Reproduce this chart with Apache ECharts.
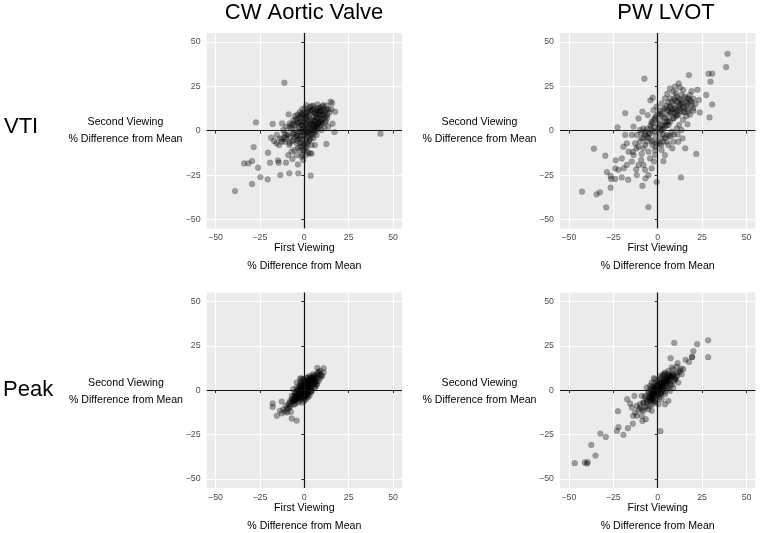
<!DOCTYPE html>
<html>
<head>
<meta charset="utf-8">
<script src="https://cdn.jsdelivr.net/npm/echarts@6/dist/echarts.min.js"></script>
<style>html,body{margin:0;padding:0;background:#fff}#c{width:760px;height:533px}</style>
</head>
<body>
<div id="c"></div>
<script>
// ---- data ----
const columnTitles = ['CW Aortic Valve', 'PW LVOT'];
const rowTitles = ['VTI', 'Peak'];
const tickValues = [-50, -25, 0, 25, 50];
const xTitle = ['First Viewing', '% Difference from Mean'];
const yTitle = ['Second Viewing', '% Difference from Mean'];

const cwVti = [
[-11.2,27.0],[-27.2,4.7],[-17.8,3.8],[42.9,-1.7],[-28.5,-9.2],[-20.4,-12.4],[-33.9,-18.4],[-31.5,-18.4],[-29.4,-17.1],
[-26.0,-20.8],[-24.7,-26.1],[-29.4,-30.0],[-39.0,-34.0],[-20.6,-27.4],[-19.3,-18.0],[-14.8,-16.7],[-14.4,-18.0],[-13.5,-25.0],
[-8.4,-24.0],[-10.3,-18.0],[-6.7,-15.9],[-9.0,-13.7],[-3.6,-19.0],[-3.4,-24.0],[3.6,-25.3],[-0.6,-16.5],[-1.1,-13.7],
[3.2,-12.8],[4.1,-12.8],[12.4,-7.5],[17.0,-0.8],[15.9,3.9],[17.4,10.7],[15.7,15.6],[14.8,16.3],[-8.8,9.2],[-12.5,4.1],
[-18.7,-3.9],[-17.0,-5.8],[-15.7,-7.1],[-14.2,-8.1],[-12.7,-4.7],[-11.2,-1.7],[-8.4,-8.1],[-5.6,-10.9],[-3.7,-9.9],
[1.1,14.4],[5.1,13.9],[8.1,12.9],[10.7,14.4],[12.5,14.1],[13.5,12.2],[11.6,10.7],[8.8,8.8],[6.6,7.5],[6.0,5.1],[8.8,5.1],
[11.6,4.7],[13.5,2.3],[9.7,0.4],[6.9,-2.4],[5.1,-4.3],[6.0,-8.1],[4.1,-8.1],[1.3,-6.2],[-2.4,-4.3],[-4.3,-2.4],[-5.2,0.4],
[-7.1,3.2],[-3.4,4.1],[-1.5,6.9],[-0.6,8.8],[2.2,7.9],[3.2,5.1],[1.3,3.2],[-0.6,1.3],[-2.4,-0.6],[0.4,-2.4],[2.2,-0.6],
[4.1,1.3],[5.1,3.2],[6.9,2.3],[7.9,4.1],[6.0,9.8],[4.1,11.6],[2.2,10.7],[0.4,12.6],[-2.4,7.9],[-4.3,6.9],[-6.2,6.0],
[-8.1,4.1],[-10.1,2.3],[-11.8,0.4],[-10.1,-2.4],[-8.1,-3.4],[-6.2,-5.3],[-4.3,-7.1],[-2.4,-9.0],[-0.6,-10.9],[1.3,-9.0],
[-0.6,-7.1],[-12.7,-6.2],[-10.9,-6.2],[-13.7,-4.3],[-15.5,-2.4],[-1.5,-14.6],[0.9,-13.7],[-4.3,-13.7],[-7.1,-11.8],
[2,2],[3,4],[4,6],[5,8],[6,10],[7,9],[8,7],[9,9],[10,11],[11,12],[7,12],[5,11],[3,9],[1,7],[0,5],[-1,3],[-2,1],[-3,-1],
[-4,-3],[0,0],[1,-1],[2,-3],[3,-5],[4,-2],[5,0],[6,2],[7,4],[8,1],[9,3],[10,6],[12,8],[13,9],[-1,-5],[-2,-7],[0,-8],
[1,-10],[-3,2],[-5,3],[-6,-2],[-7,-6],[2,12],[4,14],[9,13],[11,9],[6,6],[3,1],[-1,10],[1,4],[-2,5],
[-5.2,8.3],[-3.8,9.1],[-2.6,10.4],[-1.7,9.2],[0.3,9.4],[1.2,10.3],[3.4,11.2],[5.3,12.4],[7.2,11.3],[8.3,10.2],[9.1,11.4],
[10.3,8.7],[11.2,7.1],[9.3,6.2],[8.1,3.7],[7.3,1.8],[6.2,0.4],[5.1,-1.7],[3.8,-3.9],[2.7,-5.8],[1.9,-7.2],[0.8,-4.6],
[-0.3,-2.7],[-1.2,-0.8],[-2.1,-2.9],[-3.2,-4.8],[-4.1,-5.7],[-5.3,-3.6],[-6.1,-1.2],[-7.2,1.1],[-8.3,2.2],[-6.2,3.8],
[-4.8,5.7],[-3.7,4.6],[-2.9,7.2],[-1.6,3.3],[-0.7,4.8],[0.4,6.9],[1.3,8.2],[2.4,5.7],[3.1,2.9],[4.3,3.8],[5.4,5.6],
[6.3,3.6],[7.1,6.8],[8.4,11.2],[9.2,4.8],[10.1,3.9],[11.3,1.7],[12.2,5.3],[12.9,7.2],[14.1,10.3],[15.2,12.1],[12.3,11.8],
[10.2,13.7],[7.4,14.8],[3.2,13.3],[-1.1,12.2],[0.2,1.7],[1.1,0.3],[2.2,-1.2],[3.3,-2.1],[4.2,0.2],[5.2,2.2],[6.1,-0.9],
[-1.2,-8.3],[0.1,-11.2],[-2.2,-11.1],[2.1,-12.3],[-9.1,-2.2],[-10.2,-4.8],[-8.2,-6.9],[-11.1,-3.8]
];

const pwVti = [
[39.3,43.3],[38.5,35.8],[28.6,32.1],[30.7,32.1],[29.7,27.6],[17.6,31.3],[-7.5,29.3],[11.8,26.6],[22.4,23.1],[14.4,22.9],
[27.3,20.1],[30.7,14.8],[23.2,17.3],[23.7,10.3],[29.2,7.5],[17.2,18.2],[19.1,16.3],[5.4,20.8],[8.8,22.0],[-2.8,18.6],
[-4.1,17.1],[-18.3,9.9],[-22.6,1.9],[-35.9,-10.1],[-29.5,-14.1],[-23.7,-16.7],[-28.6,-23.3],[-26.5,-25.5],[-26.2,-27.2],
[-23.9,-27.2],[-26.5,-32.1],[-42.6,-34.3],[-34.4,-35.8],[-32.5,-34.7],[-29.0,-43.2],[-5.2,-43.0],[-0.6,-28.9],[-8.6,-31.0],
[13.1,-26.3],[21.7,-13.1],[15.5,-9.9],[8.2,-9.9],[3.2,-17.1],[-22.1,-22.0],[-20.2,-26.3],[-16.6,-27.6],[-19.1,-21.2],
[-17.4,-19.3],[-14.6,-17.4],[-12.1,-21.8],[-7.1,-22.1],[-6.9,-26.8],[-5.2,-25.0],[-3.4,-21.2],[-2.1,-17.4],[-4.3,-15.6],
[-9.3,-16.5],[-10.8,-19.3],[-13.6,-13.7],[-16.4,-11.8],[-19.3,-9.0],[-17.4,-7.1],[-18.3,-2.4],[-14.6,-2.4],[-13.6,2.3],
[-10.8,6.9],[-8.6,10.7],[-5.6,8.8],[-3.4,5.1],[-1.5,6.9],[1.3,9.8],[4.1,12.6],[6.9,13.5],[9.7,12.6],[12.5,14.4],[14.4,10.7],
[11.6,8.8],[8.8,6.9],[6.0,5.1],[3.2,3.2],[1.3,1.3],[-1.5,-0.6],[-4.3,-1.5],[-7.1,-0.6],[-9.9,0.4],[-11.8,-2.4],[-9.0,-4.3],
[-6.2,-6.2],[-3.4,-5.3],[-0.6,-7.1],[2.2,-4.3],[5.0,-2.4],[7.9,-0.6],[10.7,1.3],[13.4,0.4],[16.8,3.6],[14.0,-4.3],[11.6,-6.2],
[8.8,-6.2],[6.0,-8.1],[2.2,-10.9],[-1.5,-10.9],[-5.2,-11.8],[-8.0,-9.9],[-10.8,-9.0],[-12.7,-7.1],[7.9,16.3],[10.7,19.1],
[13.5,20.1],[16.3,18.2],[20.0,12.6],[17.2,10.7],[4.1,18.2],[2.2,15.4],[-0.6,13.5],[-2.4,11.6],[6.9,23.8],[9.7,24.8],
[12.5,24.2],[-23.9,-21.2],[-20.2,-15.6],[4.1,-13.7],[-1.5,-13.7],[-11.8,-25.0],[-8.0,-19.3],
[2,3],[4,5],[6,8],[8,10],[10,12],[12,14],[14,16],[9,15],[7,13],[5,11],[3,8],[1,6],[0,4],[-2,2],[-3,0],[-5,-2],[-1,-3],
[1,-1],[3,1],[5,3],[7,5],[9,7],[11,9],[13,11],[15,13],[16,16],[12,18],[10,17],[6,16],[-4,3],[-6,1],[-8,-4],[-7,-8],
[-3,-8],[0,-6],[2,-8],[4,-4],[6,-3],[-10,-6],[-12,-10],[-14,-12],[-9,-13],[17,12],[18,20],[20,18],
[0.3,1.2],[2.2,0.1],[3.1,-2.2],[4.2,2.3],[5.3,5.2],[6.1,3.2],[7.2,10.3],[8.1,12.2],[9.2,10.1],[10.3,8.2],[11.1,11.3],
[12.2,12.1],[13.1,15.2],[14.2,13.1],[15.1,10.2],[16.2,14.1],[17.1,15.3],[18.2,17.1],[19.1,14.2],[15.2,19.1],[13.2,17.2],
[11.1,16.2],[9.2,18.1],[7.1,18.2],[5.2,14.1],[3.1,12.2],[1.2,11.1],[0.1,9.2],[-1.2,8.1],[-2.1,6.2],[-3.2,4.1],[-4.1,1.2],
[-5.2,-4.1],[-6.1,-3.2],[-7.2,-2.1],[-8.1,1.2],[-9.2,-1.1],[-3.1,-6.2],[-1.2,-9.1],[1.1,-7.2],[3.2,-6.1],[5.1,-6.2],
[7.2,-3.1],[9.1,-2.2],[11.2,-2.1],[12.1,3.2],[14.2,6.1],[16.1,8.2],[18.2,9.1],[20.1,11.2],[21.2,15.1],[19.1,22.2],
[10.2,21.1],[4.1,7.2],[2.2,9.1],[6.1,11.2]
];

const cwPeak = [
[7.3,12.6],[10.9,12.4],[10.9,9.9],[9.7,8.1],[7.9,10.3],[-2.4,6.6],[-1.5,6.6],[-4.3,4.3],[-17.8,-7.5],[-17.8,-9.4],
[-15.5,-14.4],[-12.7,-13.1],[-10.9,-12.2],[-12.7,-6.4],[-9.6,-12.6],[-7.5,-12.2],[-7.1,-15.9],[-4.3,-17.1],[-10.3,-8.8],
[-9.0,-7.9],[-8.1,-6.9],[-6.2,-6.0],[-4.3,-5.1],[-7.1,-3.2],[-5.2,-1.3],[-3.4,0.6],[-1.5,2.4],[0.4,4.3],[2.2,5.3],[4.1,6.6],
[6.0,6.2],[8.8,6.6],[5.1,3.4],[3.2,1.5],[1.3,-0.4],[-0.6,-2.3],[-2.4,-4.1],[-3.4,-3.2],[-1.5,-5.1],[0.4,-4.1],[2.2,-2.3],
[4.1,-0.4],[6.0,1.5],[6.9,3.4],[-0.6,1.5],[-2.4,-1.3],[-4.3,-3.2],[-5.2,-7.9],[-3.4,-6.9],[1.3,5.3],[3.2,7.1],[5.1,8.1],
[-0.6,6.2],[-2.4,3.4],[-4.3,1.5],[-6.2,0.6],[-1.5,-0.4],[0.4,0.6],[2.2,2.4],[1.3,2.4],[-0.6,3.4],[-0.2,-1.3],[0.9,-2.8],
[-2.1,-2.8],[-11.8,-10.7],[-13.7,-11.6],[-8.4,-9.8],
[-7,-7],[-6,-5],[-6,-8],[-5,-4],[-5,-6],[-4,-2],[-4,-5],[-3,-1],[-3,-3],[-3,-6],[-2,0],[-2,-2],[-2,-4],[-1,1],[-1,-1],
[-1,-3],[0,2],[0,0],[0,-2],[0,-4],[1,3],[1,1],[1,-1],[1,-3],[2,4],[2,2],[2,0],[2,-2],[3,5],[3,3],[3,1],[3,-1],[4,6],
[4,4],[4,2],[4,0],[5,7],[5,5],[5,3],[6,8],[6,5],[6,4],[7,9],[7,7],[7,5],[8,10],[8,8],[9,11],[9,9],[-1,4],[0,6],[1,7],
[-2,3],[2,7],[3,8],[5,9],[-4,0],[-5,-2],[-6,-3],[-7,-5],[-8,-6],[-8,-9],[-9,-10],[-10,-11],[0,-6],[1,-5],[-1,-7],[2,-4],
[3,-3],[4,-1],[6,2],[7,3],[8,5],[10,8],[-3,2],[-2,5],
[-0.8,0.3],[0.2,1.2],[1.3,2.1],[2.2,3.3],[3.1,4.2],[4.2,5.3],[5.1,6.2],[6.2,7.1],[-1.8,-1.2],[-2.9,-2.2],[-4.1,-3.1],
[-5.2,-4.8],[-6.1,-6.2],[-1.2,2.2],[0.1,3.1],[1.2,4.2],[2.1,5.1],[3.2,6.2],[4.1,7.2],[0.2,-0.8],[1.1,0.2],[2.2,1.1],
[3.1,2.2],[-2.2,-3.1],[-3.1,-4.2],[-4.2,-4.1],[-5.1,-3.2],[-1.1,-4.2],[0.2,-3.1],[1.1,-2.2],[-2.1,1.2],[-3.2,0.1]
];

const pwPeak = [
[28.4,28.1],[28.4,18.6],[22.2,25.9],[20.1,22.0],[9.3,26.6],[19.3,18.8],[19.4,18.6],[17.6,15.9],[15.7,17.1],[11.2,15.2],
[7.3,18.0],[13.1,12.2],[8.8,11.8],[4.1,9.9],[-2.2,6.8],[-13.1,-3.2],[-17.2,-5.1],[-22.4,-11.8],[-22.1,-20.8],[-23.0,-22.9],
[-19.3,-25.1],[-16.8,-21.4],[-14.0,-18.9],[-11.8,-14.4],[-13.8,-14.4],[-8.6,-17.3],[-6.7,-16.3],[-9.0,-14.4],[-32.3,-24.4],
[-29.2,-26.3],[-37.4,-30.8],[-35.0,-36.8],[-46.7,-41.1],[-41.1,-40.7],[-39.8,-41.3],[-39.4,-40.5],[1.5,-23.1],[-15.5,-7.5],
[-14.6,-9.8],[-11.8,-8.8],[-9.9,-7.9],[-8.0,-6.9],[-10.8,-11.1],[-8.0,-11.6],[-5.2,-10.7],[-3.4,-11.6],[-6.2,-6.9],[-4.3,-6.0],
[-2.4,-5.1],[0.4,-7.9],[4.1,-7.9],[6.0,-6.0],[2.2,-5.1],[-0.6,-3.2],[-3.4,-2.3],[-5.2,-1.3],[-7.1,-3.2],[-9.0,-3.2],[-6.2,1.5],
[-4.3,2.4],[-2.4,0.6],[-0.6,2.4],[1.3,4.3],[3.2,6.2],[5.0,7.1],[6.9,8.1],[8.8,9.0],[10.7,9.9],[12.5,10.9],[9.7,6.2],[6.9,4.3],
[5.0,2.4],[3.2,0.6],[1.3,-1.3],[4.1,-2.3],[6.9,-0.4],[8.8,1.5],[11.6,4.3],[0.4,1.5],[-1.5,-0.4],[-3.4,4.3],[-1.5,6.2],[1.3,8.1],
[3.2,9.0],[6.0,10.9],[7.9,12.8],[10.7,13.3],[14.4,11.8],[13.5,9.0],[-3.4,-5.1],[-1.5,-6.9],[-4.3,-8.8],[-7.1,-9.8],[-12.7,-12.6],
[-9.9,-9.8],
[-6,-6],[-5,-4],[-4,-3],[-3,-2],[-2,-1],[-1,0],[0,1],[1,2],[2,3],[3,4],[4,5],[5,6],[6,7],[7,8],[8,9],[-4,-6],[-3,-4],[-2,-3],
[-1,-2],[0,-1],[1,0],[2,1],[3,2],[4,3],[5,4],[6,5],[7,6],[9,8],[-5,-1],[-4,1],[-3,2],[-2,4],[-1,3],[0,5],[1,6],[2,7],[3,8],
[4,9],[-6,-9],[-3,-8],[-1,-6],[1,-4],[2,-2],[4,-1],[6,1],[8,3],[10,6],[11,8],[12,10],[-7,-4],[-8,-7],[-9,-11],[0,3],[1,4],
[-2,0],[-1,1],
[-5.2,-5.1],[-4.1,-4.2],[-3.2,-3.1],[-2.1,-2.2],[-1.2,-1.1],[0.2,0.1],[1.1,1.2],[2.2,2.1],[3.1,3.2],[4.2,4.1],[5.1,5.2],
[6.2,6.1],[7.1,7.2],[8.2,8.1],[-3.1,0.2],[-2.2,1.1],[-1.1,2.2],[0.1,2.1],[1.2,3.1],[2.1,4.2],[3.2,5.1],[4.1,6.2],[5.2,8.1],
[6.1,9.2],[-4.2,-2.1],[-3.1,-5.2],[-2.2,-6.1],[0.1,-3.2],[1.2,-2.1],[2.1,-1.2],[3.2,0.1],[5.1,1.2],[7.2,3.1],[9.1,5.2],
[10.2,7.1]
];

// ---- chart ----
const panels = [cwVti, pwVti, cwPeak, pwPeak];
const FONT = "'Liberation Sans', Arial, Helvetica, sans-serif";
const gridPos = [
  {left: 206.6, top: 33},
  {left: 560, top: 33},
  {left: 206.6, top: 292.5},
  {left: 560, top: 292.5}
];
const SIZE = 195.4;
const fmt = v => (v < 0 ? '\u2212' + Math.abs(v) : String(v));

const grid = [], xAxis = [], yAxis = [], series = [];
panels.forEach((data, i) => {
  grid.push({left: gridPos[i].left, top: gridPos[i].top, width: SIZE, height: SIZE,
    show: true, backgroundColor: '#EBEBEB', borderWidth: 0, containLabel: false});
  const axisCommon = {
    gridIndex: i, type: 'value', min: -55, max: 55,
    axisLine: {show: false},
    axisTick: {show: true, length: 3, customValues: tickValues, lineStyle: {color: '#333', width: 1}},
    axisLabel: {customValues: tickValues, formatter: fmt, fontSize: 8.8, color: '#4D4D4D', fontFamily: FONT},
    splitLine: {show: true, lineStyle: {color: '#FFFFFF', width: 1.1}},
    minorSplitLine: {show: false}
  };
  xAxis.push(Object.assign({}, axisCommon, {position: 'bottom',
    axisLabel: Object.assign({}, axisCommon.axisLabel, {margin: 5})}));
  yAxis.push(Object.assign({}, axisCommon, {position: 'left',
    axisLabel: Object.assign({}, axisCommon.axisLabel, {margin: 6})}));
  series.push({
    type: 'line', data: [], xAxisIndex: i, yAxisIndex: i, z: 1, silent: true,
    markLine: {silent: true, symbol: ['none', 'none'], animation: false,
      label: {show: false},
      lineStyle: {color: '#111', width: 1.2, type: 'solid'},
      emphasis: {disabled: true},
      data: [{xAxis: 0}, {yAxis: 0}]}
  });
  series.push({
    type: 'scatter', data: data, xAxisIndex: i, yAxisIndex: i, z: 3,
    symbolSize: 5.8,
    itemStyle: {color: 'rgba(0,0,0,0.42)', borderColor: 'rgba(0,0,0,0.3)', borderWidth: 0.5}
  });
});

const graphic = [];
const txt = (text, x, y, size, align, color) => graphic.push({
  type: 'text', x: x, y: y, silent: true,
  style: {text: text, fontSize: size, fontFamily: FONT, fill: color || '#000',
    textAlign: align || 'center', textVerticalAlign: 'middle'}
});
txt(columnTitles[0], 304, 13, 22);
txt(columnTitles[1], 666, 13, 22);
txt(rowTitles[0], 4, 127, 22, 'left');
txt(rowTitles[1], 3, 390, 22, 'left');
[[125.5, 121.7, 139.3], [479.5, 121.7, 139.3], [126, 383.3, 400.5], [479.5, 383.3, 400.5]].forEach(p => {
  txt(yTitle[0], p[0], p[1], 10.6);
  txt(yTitle[1], p[0], p[2], 10.6);
});
[[304.3, 248.3, 265.7], [657.7, 248.3, 265.7], [304.3, 508.3, 525.7], [657.7, 508.3, 525.7]].forEach(p => {
  txt(xTitle[0], p[0], p[1], 10.6);
  txt(xTitle[1], p[0], p[2], 10.6);
});

const chart = echarts.init(document.getElementById('c'), null, {renderer: 'canvas'});
chart.setOption({animation: false, backgroundColor: '#fff', grid, xAxis, yAxis, series, graphic});
</script>
</body>
</html>
